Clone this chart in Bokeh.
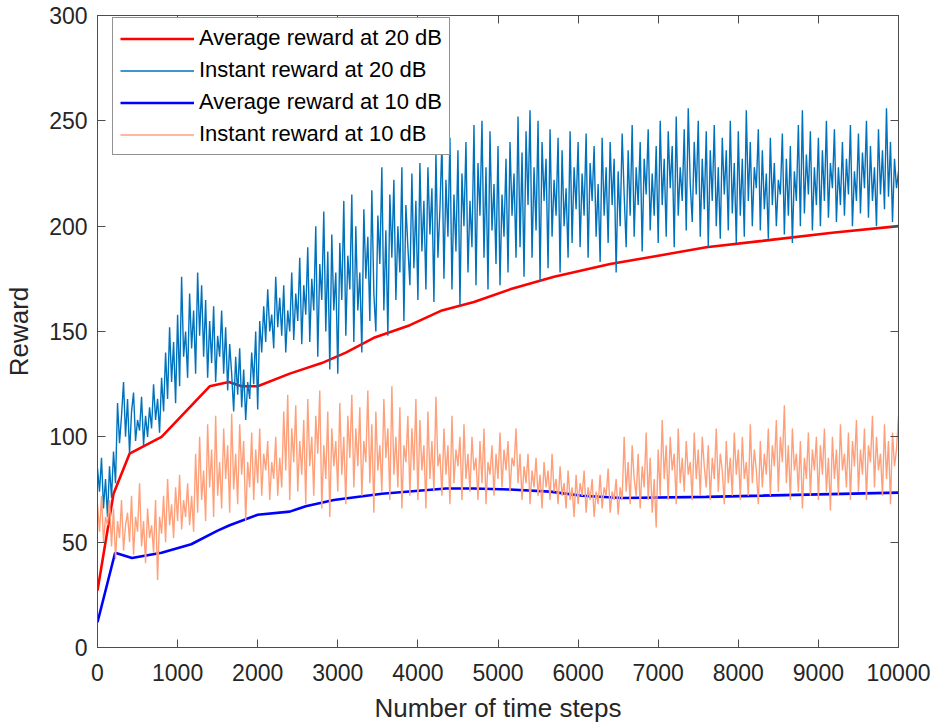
from bokeh.plotting import figure
from bokeh.models import Range1d, LinearAxis, FixedTicker, Legend
from bokeh.embed import file_html
from bokeh.resources import INLINE

# ---------------- data ----------------
step = 25

inst20 = [
    85, 74, 90, 66, 80, 62, 86, 71, 93, 78, 116, 97, 110, 126, 100, 118, 92, 112, 121, 98,
    108, 103, 119, 96, 110, 100, 114, 104, 125, 108, 118, 102, 128, 112, 140, 118, 152, 126, 145, 116,
    158, 124, 176, 138, 150, 128, 168, 142, 160, 130, 178, 148, 172, 138, 165, 128, 155, 135, 162, 126,
    148, 138, 160, 130, 152, 122, 144, 130, 112, 138, 120, 142, 114, 132, 108, 126, 118, 140, 125, 150,
    113, 155, 140, 162, 145, 170, 150, 158, 142, 176, 152, 166, 148, 172, 140, 160, 150, 178, 146, 168,
    155, 185, 144, 172, 158, 190, 145, 175, 160, 200, 138, 182, 165, 207, 150, 188, 132, 196, 160, 178,
    130, 192, 165, 212, 148, 186, 170, 215, 145, 200, 160, 178, 140, 208, 175, 195, 155, 217, 168, 150,
    205, 182, 228, 160, 198, 148, 215, 185, 222, 165, 200, 178, 228, 155, 210, 190, 172, 225, 180, 212,
    165, 230, 188, 212, 170, 228, 196, 218, 164, 235, 185, 208, 240, 175, 222, 195, 242, 170, 215, 188,
    236, 162, 225, 200, 240, 178, 212, 190, 248, 172, 230, 205, 250, 185, 228, 170, 245, 198, 220, 182,
    238, 172, 215, 195, 232, 178, 240, 205, 225, 185, 252, 190, 235, 176, 245, 210, 255, 185, 228, 198,
    250, 174, 240, 212, 232, 180, 246, 195, 222, 205, 242, 178, 236, 200, 218, 185, 245, 192, 228, 208,
    240, 190, 225, 205, 244, 185, 230, 212, 238, 195, 220, 183, 242, 205, 228, 192, 240, 210, 232, 178,
    226, 200, 244, 215, 190, 236, 205, 248, 195, 228, 210, 240, 188, 232, 215, 246, 198, 225, 205, 238,
    192, 250, 210, 232, 195, 245, 218, 238, 190, 252, 205, 228, 212, 246, 198, 256, 220, 202, 240, 215,
    250, 195, 232, 208, 245, 190, 236, 212, 248, 200, 228, 194, 242, 215, 236, 198, 250, 206, 230, 192,
    245, 205, 232, 195, 255, 212, 240, 200, 228, 218, 246, 198, 236, 208, 225, 194, 242, 210, 230, 200,
    222, 215, 244, 196, 232, 205, 238, 192, 226, 212, 248, 200, 255, 206, 234, 215, 245, 198, 228, 210,
    242, 200, 236, 212, 250, 204, 230, 218, 246, 202, 228, 210, 240, 205, 232, 215, 248, 200, 226, 212,
    244, 206, 235, 218, 250, 204, 238, 212, 228, 200, 246, 215, 236, 208, 256, 214, 240, 202, 232, 218,
    226,
]

inst10 = [
    68, 55, 72, 50, 62, 58, 70, 48, 66, 42, 60, 52, 70, 46, 58, 64, 50, 72, 44, 62,
    55, 78, 48, 60, 40, 66, 52, 58, 45, 70, 32, 62, 54, 72, 50, 80, 58, 68, 52, 76,
    60, 82, 56, 70, 62, 78, 58, 72, 55, 92, 64, 100, 70, 84, 60, 106, 76, 94, 62, 110,
    72, 88, 66, 104, 80, 96, 64, 111, 75, 92, 68, 106, 82, 98, 60, 88, 76, 102, 70, 94,
    78, 104, 72, 92, 84, 98, 70, 88, 80, 100, 72, 90, 76, 112, 84, 120, 70, 104, 88, 115,
    74, 98, 82, 108, 68, 118, 86, 100, 72, 110, 92, 122, 66, 96, 80, 112, 62, 104, 86, 98,
    74, 116, 82, 100, 68, 110, 90, 120, 76, 104, 86, 114, 72, 98, 88, 122, 78, 106, 64, 112,
    84, 96, 74, 118, 90, 104, 70, 124, 82, 100, 76, 114, 66, 96, 88, 110, 72, 104, 84, 118,
    70, 108, 84, 96, 66, 112, 80, 98, 74, 119, 86, 92, 72, 104, 82, 96, 68, 110, 78, 94,
    86, 100, 70, 106, 80, 92, 74, 100, 84, 90, 70, 98, 78, 104, 68, 88, 82, 96, 72, 92,
    80, 102, 76, 94, 84, 98, 74, 90, 86, 104, 78, 92, 70, 86, 78, 92, 68, 84, 76, 90,
    72, 82, 66, 88, 76, 84, 70, 92, 74, 80, 68, 86, 72, 78, 66, 84, 70, 76, 62, 82,
    68, 78, 72, 84, 64, 76, 70, 80, 62, 74, 68, 82, 66, 76, 72, 85, 64, 74, 70, 80,
    63, 76, 70, 100, 74, 88, 68, 96, 80, 72, 92, 66, 86, 76, 102, 70, 90, 64, 80, 57,
    94, 72, 108, 80, 96, 70, 100, 84, 92, 68, 104, 78, 90, 74, 98, 82, 88, 70, 102, 80,
    94, 72, 100, 86, 76, 96, 70, 90, 80, 104, 74, 92, 84, 68, 98, 78, 90, 72, 102, 82,
    94, 70, 100, 80, 88, 72, 106, 78, 94, 84, 68, 98, 76, 92, 82, 104, 72, 96, 86, 108,
    74, 100, 88, 115, 78, 96, 70, 104, 84, 92, 74, 98, 66, 90, 80, 102, 72, 94, 84, 100,
    70, 96, 82, 104, 74, 90, 65, 100, 80, 94, 72, 106, 84, 92, 76, 102, 70, 98, 86, 108,
    74, 94, 82, 104, 70, 96, 88, 110, 76, 100, 84, 92, 72, 106, 80, 98, 68, 102, 86, 94,
    110,
]

inst20_x = [i * step for i in range(len(inst20))]
inst10_x = [i * step for i in range(len(inst10))]

avg20_x = [0, 200, 400, 800, 1100, 1400, 1640, 1800, 2000, 2400, 2800, 3100, 3450, 3900,
           4300, 4700, 5150, 5700, 6400, 7000, 7600, 8300, 9200, 10000]
avg20_y = [27, 73, 92, 100, 112, 124, 126, 124, 124, 130, 135, 140, 147, 153,
           160, 164, 170, 176, 182, 186, 190, 193, 197, 200]

avg10_x = [0, 220, 430, 800, 1170, 1500, 1650, 2000, 2400, 2600, 2950, 3550, 4350, 4700,
           5150, 5650, 6050, 6550, 7600, 10000]
avg10_y = [12, 45, 42.5, 45, 49, 55.5, 58, 63, 64.5, 67, 70, 73, 75.5, 75.5,
           75, 74, 72, 71, 71.5, 73.5]

x_ticks = list(range(0, 10001, 1000))
y_ticks = list(range(0, 301, 50))

# ---------------- figure ----------------
FONT = "Liberation Sans"
TXT = "#262626"
AX = "#4d4d4d"

p = figure(frame_width=801, frame_height=632, output_backend="svg", toolbar_location=None,
           x_range=Range1d(0, 10000), y_range=Range1d(0, 300),
           min_border_left=97, min_border_right=35, min_border_top=15, min_border_bottom=77)
p.grid.visible = False
p.outline_line_color = AX
p.outline_line_width = 1
p.background_fill_color = "white"
p.border_fill_color = "white"

r1 = p.line(avg20_x, avg20_y, color="#FF0000", line_width=2.6)
r2 = p.line(inst20_x, inst20, color="#0072BD", line_width=1.4)
r3 = p.line(avg10_x, avg10_y, color="#0000FF", line_width=2.6)
r4 = p.line(inst10_x, inst10, color="#FFA07A", line_width=1.4)

for ax, ticks in ((p.xaxis[0], x_ticks), (p.yaxis[0], y_ticks)):
    ax.ticker = FixedTicker(ticks=ticks)
    ax.major_tick_in = 8
    ax.major_tick_out = 0
    ax.minor_tick_line_color = None
    ax.axis_line_color = AX
    ax.major_tick_line_color = AX
    ax.major_label_text_font = FONT
    ax.major_label_text_font_size = "23px"
    ax.major_label_text_color = TXT
    ax.axis_label_text_font = FONT
    ax.axis_label_text_font_size = "26px"
    ax.axis_label_text_font_style = "normal"
    ax.axis_label_text_color = TXT

p.xaxis[0].axis_label = "Number of time steps"
p.xaxis[0].major_label_standoff = 16
p.xaxis[0].axis_label_standoff = 9
p.yaxis[0].axis_label = "Reward"
p.yaxis[0].major_label_standoff = 10
p.yaxis[0].axis_label_standoff = 12

# mirrored ticks on top and right (box on)
for loc, ticks in (("above", x_ticks), ("right", y_ticks)):
    a = LinearAxis(ticker=FixedTicker(ticks=ticks), major_tick_in=8, major_tick_out=0,
                   minor_tick_line_color=None, axis_line_color=AX, major_tick_line_color=AX,
                   major_label_text_font_size="0px", major_label_standoff=0)
    a.major_label_text_color = None
    p.add_layout(a, loc)

legend = Legend(items=[("Average reward at 20 dB", [r1]),
                       ("Instant reward at 20 dB", [r2]),
                       ("Average reward at 10 dB", [r3]),
                       ("Instant reward at 10 dB", [r4])])
legend.label_text_font = FONT
legend.label_text_font_size = "22px"
legend.label_text_color = "black"
legend.glyph_width = 74
legend.glyph_height = 25
legend.label_height = 25
legend.spacing = 6
legend.padding = 7
legend.margin = 0
legend.label_standoff = 5
legend.border_line_color = TXT
legend.border_line_width = 1
legend.background_fill_alpha = 1
legend.location = (15, 632 - 10 - 130)
p.add_layout(legend, "center")

open("out.html", "w").write(file_html(p, INLINE))
